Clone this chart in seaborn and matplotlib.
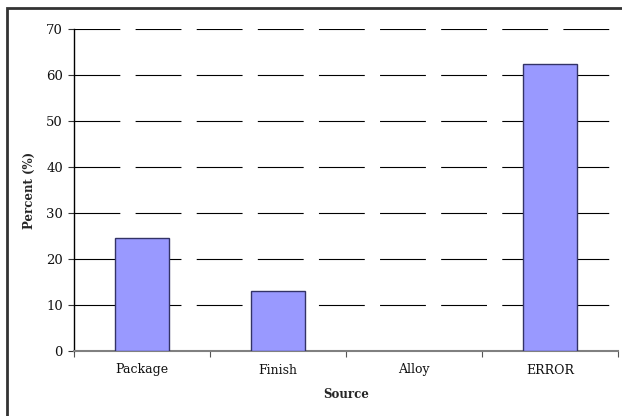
import matplotlib
matplotlib.use("Agg")
import matplotlib.pyplot as plt
from matplotlib.patches import Rectangle
import seaborn as sns
import pandas as pd

categories = ["Package", "Finish", "Alloy", "ERROR"]
percent = [24.6, 13.0, 0.0, 62.4]
y_ticks = [0, 10, 20, 30, 40, 50, 60, 70]

sns.set_theme(style="white")
plt.rcParams["font.family"] = ["DejaVu Serif"]
plt.rcParams["lines.scale_dashes"] = False

df = pd.DataFrame({"Source": categories, "Percent": percent})

fig = plt.figure(figsize=(6.22, 4.16), dpi=100)
ax = fig.add_axes([74 / 622, 1 - 351 / 416, (618 - 74) / 622, (351 - 29) / 416])

sns.barplot(data=df, x="Source", y="Percent", order=categories, color="#9999FF",
            saturation=1, width=0.4, edgecolor="#333366", linewidth=1.0, ax=ax, zorder=3)

# an empty category shows no outline on the baseline
for bar, v in zip(ax.patches, percent):
    if v == 0:
        bar.set_visible(False)

ax.set_ylim(0, 70)
ax.set_xlim(-0.5, 3.5)
ax.set_yticks(y_ticks)
ax.set_yticklabels([str(v) for v in y_ticks])

# dashed horizontal grid behind the bars
for v in y_ticks[1:]:
    ax.axhline(v, color="black", linewidth=0.8, dashes=(33, 11), zorder=1)

# category separators as ticks on the x axis
ax.set_xticks([i + 0.5 for i in range(-1, len(categories))], minor=True)
ax.tick_params(axis="x", which="major", length=0, pad=9, labelsize=9, colors="#111111")
ax.tick_params(axis="x", which="minor", length=4, width=0.8, color="#555555", direction="out")
ax.tick_params(axis="y", which="major", length=4, width=0.8, color="#333333", direction="out",
               pad=4, labelsize=9.5, labelcolor="#111111")
ax.xaxis.set_tick_params(which="minor", bottom=True)
ax.yaxis.set_tick_params(left=True)

for s in ["top", "right"]:
    ax.spines[s].set_visible(False)
ax.spines["left"].set_color("black")
ax.spines["left"].set_linewidth(1.0)
ax.spines["bottom"].set_color("#808080")
ax.spines["bottom"].set_linewidth(1.5)

ax.set_xlabel("Source", fontsize=8.5, fontweight="bold", labelpad=8)
ax.set_ylabel("Percent (%)", fontsize=8.5, fontweight="bold", labelpad=7)

# chart frame
fig.patches.append(Rectangle((6.5 / 622, -0.05), 1.1, 1 - 7.5 / 416 + 0.05,
                             transform=fig.transFigure, fill=False,
                             edgecolor="#333333", linewidth=2.0, zorder=10))

fig.savefig("out.png", dpi=100)
